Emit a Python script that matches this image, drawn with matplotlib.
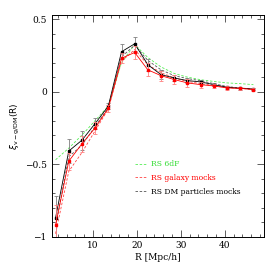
import matplotlib
matplotlib.use("Agg")
import matplotlib.pyplot as plt
import numpy as np
from matplotlib.ticker import MultipleLocator

plt.rcParams['font.family'] = ['DejaVu Serif']

R = [1.5, 4.5, 7.5, 10.5, 13.5, 16.5, 19.5, 22.5, 25.5, 28.5, 31.5, 34.5, 37.5, 40.5, 43.5, 46.5]

dm_vals = [-0.87, -0.41, -0.335, -0.22, -0.10, 0.275, 0.33, 0.185, 0.117, 0.094, 0.076, 0.067, 0.048, 0.030, 0.023, 0.018]
dm_err = [0.15, 0.08, 0.065, 0.04, 0.02, 0.05, 0.05, 0.04, 0.03, 0.02, 0.02, 0.015, 0.012, 0.01, 0.01, 0.008]

gal_vals = [-0.92, -0.48, -0.36, -0.25, -0.115, 0.23, 0.27, 0.15, 0.11, 0.083, 0.06, 0.048, 0.039, 0.025, 0.023, 0.014]
gal_err = [0.14, 0.06, 0.055, 0.04, 0.025, 0.035, 0.045, 0.045, 0.035, 0.03, 0.025, 0.02, 0.015, 0.012, 0.01, 0.008]

rs_6df = [-0.47, -0.39, -0.30, -0.20, -0.10, 0.20, 0.325, 0.235, 0.17, 0.125, 0.10, 0.082, 0.07, 0.06, 0.055, 0.048]
rs_gal = [-0.98, -0.55, -0.42, -0.27, -0.12, 0.21, 0.29, 0.185, 0.13, 0.095, 0.07, 0.055, 0.042, 0.028, 0.022, 0.015]
rs_dm = [-0.93, -0.45, -0.37, -0.24, -0.11, 0.24, 0.32, 0.215, 0.15, 0.11, 0.09, 0.075, 0.055, 0.035, 0.025, 0.018]

labels = ['RS 6dF', 'RS galaxy mocks', 'RS DM particles mocks']

fig = plt.figure(figsize=(2.79, 2.79), dpi=100)
ax = fig.add_axes([0.185, 0.152, 0.761, 0.794])

ax.errorbar(R, dm_vals, yerr=dm_err, color='black', lw=0.6, marker='s', ms=1.7,
            ecolor='#808080', elinewidth=0.6, capsize=1.6, capthick=0.6, zorder=4)
ax.errorbar(R, gal_vals, yerr=gal_err, color='red', lw=0.6, marker='s', ms=1.7,
            ecolor='#ff8080', elinewidth=0.6, capsize=1.6, capthick=0.6, zorder=5)

l1, = ax.plot(R, rs_6df, color='#55ee55', lw=0.6, ls=(0, (3, 2)), label=labels[0])
l2, = ax.plot(R, rs_gal, color='#ff4444', lw=0.6, ls=(0, (3, 2)), label=labels[1])
l3, = ax.plot(R, rs_dm, color='#555555', lw=0.6, ls=(0, (3, 2)), label=labels[2])

leg = ax.legend(handles=[l1, l2, l3], loc='upper left', bbox_to_anchor=(0.36, 0.375),
                frameon=False, fontsize=5.5, handlelength=1.6, handletextpad=0.5,
                labelspacing=0.75, labelcolor=['#33dd33', 'red', 'black'])

ax.set_xlim(0.6, 48.9)
ax.set_ylim(-1.0, 0.528)
ax.xaxis.set_major_locator(MultipleLocator(10))
ax.xaxis.set_minor_locator(MultipleLocator(2))
ax.yaxis.set_major_locator(MultipleLocator(0.5))
ax.yaxis.set_minor_locator(MultipleLocator(0.1))
ax.tick_params(which='both', direction='in', top=True, right=True, labelsize=6.5, width=0.6, color='#444444')
ax.tick_params(which='major', length=5)
ax.tick_params(which='minor', length=2.5)
ax.yaxis.set_major_formatter(matplotlib.ticker.FuncFormatter(
    lambda v, p: {-1.0: '\u22121', -0.5: '\u22120.5', 0.0: '0', 0.5: '0.5'}.get(round(v, 2), '')))
for s in ax.spines.values():
    s.set_linewidth(0.7)

ax.set_xlabel('R [Mpc/h]', fontsize=6.5, labelpad=2)
ax.set_ylabel(r'$\xi_{\mathrm{v-g/DM}}\mathrm{(R)}$', fontsize=6.5, labelpad=2)

fig.savefig('out.png', dpi=100)
